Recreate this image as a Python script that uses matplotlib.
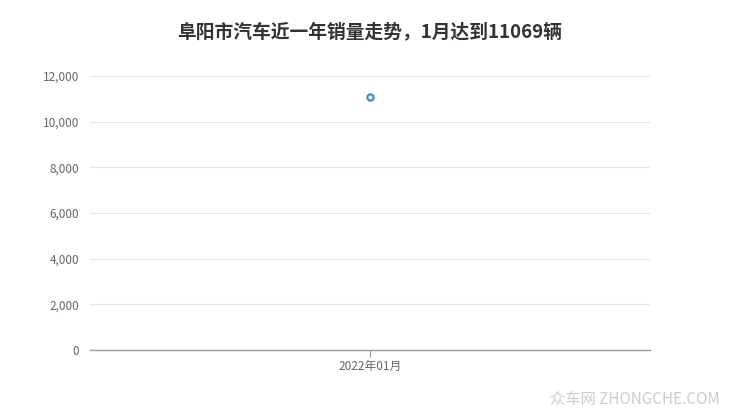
import matplotlib
matplotlib.use("Agg")
import matplotlib.pyplot as plt

plt.rcParams['font.family'] = ['Noto Sans CJK SC', 'DejaVu Sans']

categories = ["2022年01月"]
values = [11069]
yticks = [0, 2000, 4000, 6000, 8000, 10000, 12000]
title = "阜阳市汽车近一年销量走势，1月达到11069辆"

fig = plt.figure(figsize=(7.4, 4.17), dpi=100)
ax = fig.add_axes([90/740, 1-350/417, 560/740, 274/417])

x = list(range(len(categories)))
ax.plot(x, values, linestyle='none', marker='o', markersize=4.5,
        markerfacecolor='white', markeredgecolor='#3d8fc6', markeredgewidth=1.6)

ax.set_xlim(-1, 1)
ax.set_ylim(0, 12000)
ax.set_yticks(yticks)
ax.set_yticklabels([f"{v:,}" for v in yticks])
ax.set_xticks(x)
ax.set_xticklabels(categories)

ax.grid(axis='y', color='#e6e6e6', linewidth=0.8)
ax.set_axisbelow(True)
for s in ['top', 'right', 'left']:
    ax.spines[s].set_visible(False)
ax.spines['bottom'].set_color('#999999')
ax.spines['bottom'].set_linewidth(1.0)

ax.tick_params(axis='y', length=0, labelsize=8.5, labelcolor='#666666', pad=8)
ax.tick_params(axis='x', length=5, color='#999999', labelsize=8.5, labelcolor='#666666', pad=2)

fig.text(0.5, 1-32/417, title, ha='center', va='center', fontsize=13.5,
         fontweight='bold', color='#333333')
fig.text(720/740, 1-399/417, "众车网 ZHONGCHE.COM", ha='right', va='center',
         fontsize=11, color='#cccccc')

fig.savefig("out.png", dpi=100)
